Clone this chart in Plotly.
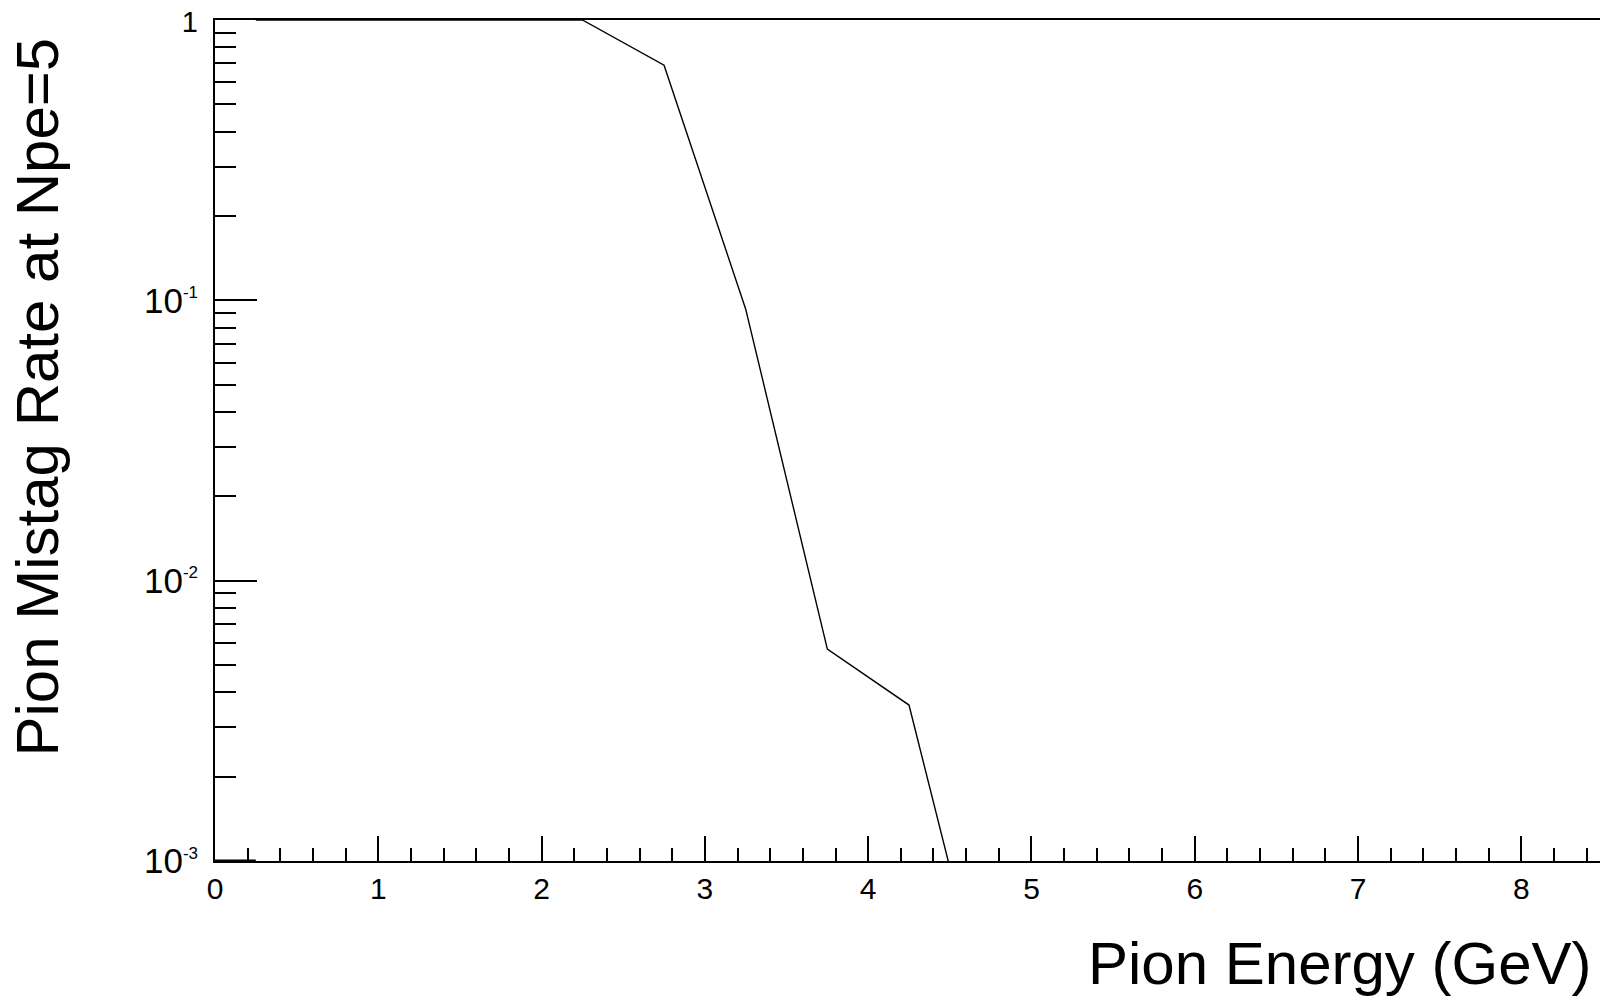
import plotly.graph_objects as go

# Data (bin centres in GeV, mistag rate)
energy = [0.25, 0.75, 1.25, 1.75, 2.25, 2.75, 3.25, 3.75, 4.25, 4.75]
mistag = [1.0, 1.0, 1.0, 1.0, 1.0, 0.69, 0.093, 0.0057, 0.0036, 0.00025]

# short segment lying on the lower frame near x=0
stub_x = [0.0, 0.25]
stub_y = [0.001, 0.001]

y_tickvals = [0.001, 0.01, 0.1, 1]
y_ticktext = [
    "10<sup><span style='font-size:17px'>-3</span></sup>",
    "10<sup><span style='font-size:17px'>-2</span></sup>",
    "10<sup><span style='font-size:17px'>-1</span></sup>",
    "<span style='font-size:29px'>1</span>",
]
y_minor = [m * 10 ** e for e in (-3, -2, -1) for m in range(2, 10)]

x_title = "Pion Energy (GeV)"
y_title = "Pion Mistag Rate at Npe=5"

FONT = "Liberation Sans, Arial, Helvetica, sans-serif"

# the page body has an 8px margin; size the figure so the plot lands where the reference has it
W, H = 1600, 995
L, R, T, B = 207, 5, 12, 142

fig = go.Figure()
fig.add_trace(go.Scatter(x=energy, y=mistag, mode="lines",
                         line=dict(color="black", width=1.4),
                         showlegend=False, hoverinfo="skip"))
fig.add_trace(go.Scatter(x=stub_x, y=stub_y, mode="lines",
                         line=dict(color="black", width=3),
                         showlegend=False, hoverinfo="skip"))

fig.update_layout(
    width=W, height=H, autosize=False,
    margin=dict(l=L, r=R, t=T, b=B, autoexpand=False),
    paper_bgcolor="white", plot_bgcolor="white",
    font=dict(family=FONT, color="black", size=28),
    xaxis=dict(
        range=[0, 8.5], showgrid=False, zeroline=False, automargin=False,
        showline=True, linecolor="black", linewidth=2, mirror=True,
        ticks="inside", ticklen=25, tickwidth=1.5, tickcolor="black",
        dtick=1, tick0=0, ticklabelstandoff=0, ticklabeloverflow="allow",
        tickfont=dict(family=FONT, size=30, color="black"),
        minor=dict(ticks="inside", ticklen=13, tickwidth=1.5,
                   tickcolor="black", dtick=0.2, showgrid=False),
    ),
    yaxis=dict(
        type="log", range=[-3, 0], showgrid=False, zeroline=False, automargin=False,
        showline=True, linecolor="black", linewidth=2, mirror=True,
        ticks="inside", ticklen=42, tickwidth=1.5, tickcolor="black",
        tickmode="array", tickvals=y_tickvals, ticktext=y_ticktext,
        tickfont=dict(family=FONT, size=35, color="black"),
        ticklabelstandoff=8, ticklabeloverflow="allow",
        minor=dict(ticks="inside", ticklen=21, tickwidth=1.5,
                   tickcolor="black", tickvals=y_minor, showgrid=False),
    ),
    annotations=[
        dict(text=x_title, xref="paper", yref="paper", x=0.9935,
             y=0, xanchor="right", yanchor="top", yshift=-67,
             showarrow=False, font=dict(family=FONT, size=60, color="black")),
        dict(text=y_title, xref="paper", yref="paper", x=0, xshift=-178,
             y=1, yshift=-16, xanchor="center", yanchor="top", textangle=-90,
             showarrow=False, font=dict(family=FONT, size=60, color="black")),
    ],
)

fig.write_html("out.html")
